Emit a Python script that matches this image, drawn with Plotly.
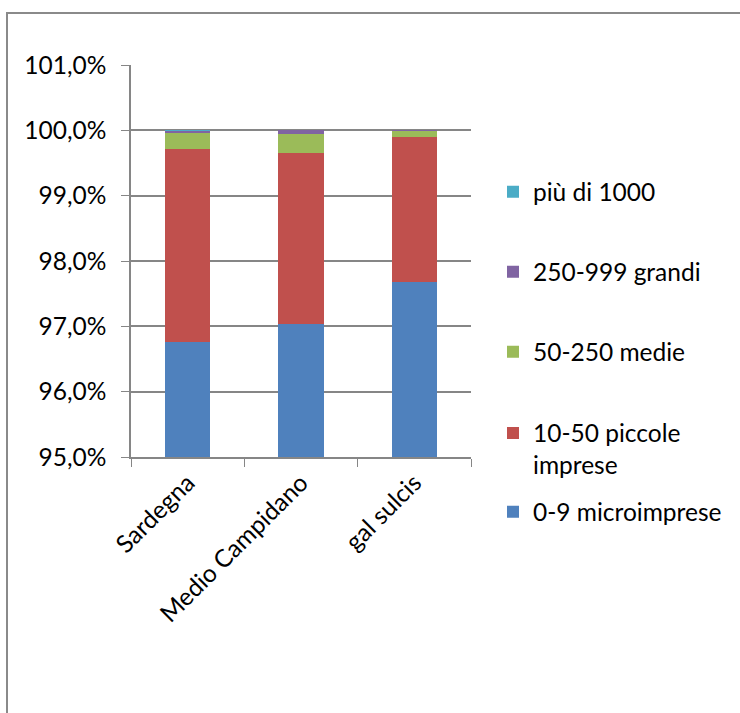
import plotly.graph_objects as go

categories = ["Sardegna", "Medio Campidano", "gal sulcis"]
series_names = ["0-9 microimprese", "10-50 piccole<br>imprese", "50-250 medie", "250-999 grandi", "più di 1000"]
micro = [96.76, 97.03, 97.68]
piccole = [2.955, 2.62, 2.22]
medie = [0.255, 0.29, 0.09]
grandi = [0.02, 0.06, 0.01]
oltre1000 = [0.01, 0.0, 0.0]
colors = ["#4F81BD", "#C0504D", "#9BBB59", "#8064A2", "#4BACC6"]
y_ticks = [95, 96, 97, 98, 99, 100, 101]
y_tick_labels = ["95,0%", "96,0%", "97,0%", "98,0%", "99,0%", "100,0%", "101,0%"]

series_values = [micro, piccole, medie, grandi, oltre1000]
legend_ids = ["legend5", "legend4", "legend3", "legend2", "legend"]

FONT = "Lato"
FS = 24.5
fig = go.Figure()
for name, vals, col, lg in zip(series_names, series_values, colors, legend_ids):
    fig.add_trace(go.Bar(
        x=categories, y=vals, name=name, marker_color=col,
        marker_line_width=0, legend=lg,
    ))

L, R, T, B = 131, 269, 65, 256
W, H = 740, 713
pw, ph = W - L - R, H - T - B

def px_x(px):
    return (px - L) / pw

def px_y(py):
    return (H - B - py) / ph

legend_font = dict(family=FONT, size=FS, color="#000000")
leg_x = px_x(493)
common = dict(x=leg_x, xanchor="left", yanchor="middle", font=legend_font,
              bgcolor="rgba(0,0,0,0)", borderwidth=0, valign="top")
fig.update_layout(
    legend=dict(y=px_y(191.7), **common),
    legend2=dict(y=px_y(271.7), **common),
    legend3=dict(y=px_y(351.7), **common),
    legend4=dict(y=px_y(449), **common),
    legend5=dict(y=px_y(511.7), **common),
)

fig.update_layout(
    barmode="stack",
    bargap=0.6,
    width=W, height=H,
    margin=dict(l=L, r=R, t=T, b=B, pad=0),
    paper_bgcolor="white", plot_bgcolor="white",
    font=dict(family=FONT, size=FS, color="#000000"),
    showlegend=True,
    xaxis=dict(
        type="category", tickangle=-45, ticks="outside", tickson="boundaries",
        ticklen=8, tickcolor="#868686", showline=True, linecolor="#868686",
        linewidth=1.5, showgrid=False, tickfont=dict(family=FONT, size=FS),
    ),
    yaxis=dict(
        range=[95, 101], tickmode="array", tickvals=y_ticks, ticktext=y_tick_labels,
        ticks="outside", ticklen=8, tickcolor="#868686", showline=True,
        linecolor="#868686", linewidth=1.5, showgrid=True, gridcolor="#868686",
        gridwidth=1.5, zeroline=False, tickfont=dict(family=FONT, size=FS),
        ticklabelstandoff=10,
    ),
    shapes=[dict(
        type="rect", xref="paper", yref="paper",
        x0=px_x(7), x1=px_x(800), y0=px_y(800), y1=px_y(13),
        line=dict(color="#8a8a8a", width=2), fillcolor="rgba(0,0,0,0)",
        layer="below",
    )],
)

fig.write_html("out.html")
